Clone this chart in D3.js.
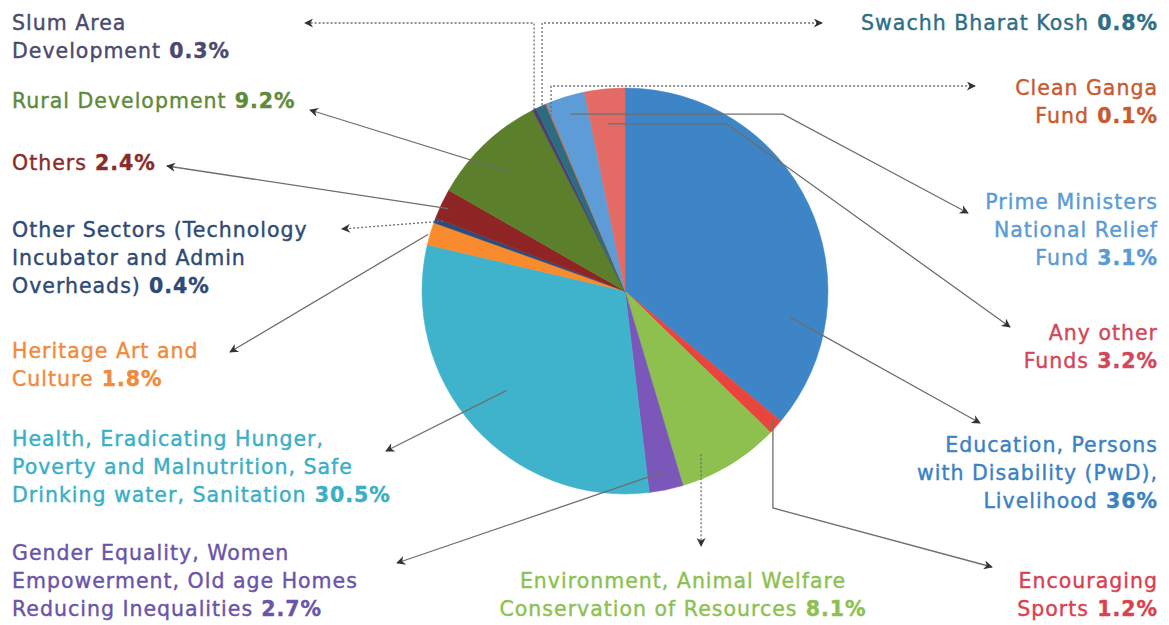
<!DOCTYPE html>
<html>
<head>
<meta charset="utf-8">
<script src="https://cdn.jsdelivr.net/npm/d3@7"></script>
<style>
  body { margin: 0; background: #fff; }
  svg { display: block; }
</style>
</head>
<body>
<div id="chart"></div>
<script>
// DATA
const CATEGORIES = [
    "Education, Persons with Disability (PwD), Livelihood",
    "Encouraging Sports",
    "Environment, Animal Welfare Conservation of Resources",
    "Gender Equality, Women Empowerment, Old age Homes Reducing Inequalities",
    "Health, Eradicating Hunger, Poverty and Malnutrition, Safe Drinking water, Sanitation",
    "Heritage Art and Culture",
    "Other Sectors (Technology Incubator and Admin Overheads)",
    "Others",
    "Rural Development",
    "Slum Area Development",
    "Swachh Bharat Kosh",
    "Clean Ganga Fund",
    "Prime Ministers National Relief Fund",
    "Any other Funds"
];
const SHARES = [36, 1.2, 8.1, 2.7, 30.5, 1.8, 0.4, 2.4, 9.2, 0.3, 0.8, 0.1, 3.1, 3.2];

// label text broken into lines (value gets added to last line)
const LABEL_LINES = [
    ["Education, Persons", "with Disability (PwD),", "Livelihood"],
    ["Encouraging", "Sports"],
    ["Environment, Animal Welfare", "Conservation of Resources"],
    ["Gender Equality, Women", "Empowerment, Old age Homes", "Reducing Inequalities"],
    ["Health, Eradicating Hunger,", "Poverty and Malnutrition, Safe", "Drinking water, Sanitation"],
    ["Heritage Art and", "Culture"],
    ["Other Sectors (Technology", "Incubator and Admin", "Overheads)"],
    ["Others"],
    ["Rural Development"],
    ["Slum Area", "Development"],
    ["Swachh Bharat Kosh"],
    ["Clean Ganga", "Fund"],
    ["Prime Ministers", "National Relief", "Fund"],
    ["Any other", "Funds"]
];

const SLICE_COLORS = ["#3d85c6", "#e8453c", "#8dc04f", "#7a57b8", "#3fb3cb", "#f98b2f",
                      "#2d4c7c", "#8e2424", "#5c7f2b", "#4b3f70", "#2d6b80", "#c9652e",
                      "#5d9cd6", "#e46a66"];
const TEXT_COLORS = ["#3a82c2", "#d9414f", "#8cc152", "#6b54a8", "#3aafc6", "#f08a3c",
                     "#2f4a75", "#8a2b2b", "#5e8a3a", "#4b4a6e", "#2e6f85", "#c85a30",
                     "#5a9bd5", "#d0485a"];

// layout for each label: text anchor point, leader start (angle deg, radius), leader waypoints
const LAYOUT = [
    {x: 1158, y: 452, anchor: "end",    start: [99, 167],  path: [[980, 423]], dash: false},
    {x: 1158, y: 588, anchor: "end",    start: [131, 196], path: [[770, 508], [992, 567]], dash: false, vert: true},
    {x: 683,  y: 588, anchor: "middle", start: [155, 180], path: [[703, 546]], dash: true, vert: true},
    {x: 12,   y: 560, anchor: "start",  start: [168, 185], path: [[397, 563]], dash: false},
    {x: 12,   y: 446, anchor: "start",  start: [230, 155], path: [[386, 451]], dash: false},
    {x: 12,   y: 358, anchor: "start",  start: [286, 205], path: [[230, 352]], dash: false},
    {x: 12,   y: 237, anchor: "start",  start: [291, 195], path: [[342, 229]], dash: true},
    {x: 12,   y: 170, anchor: "start",  start: [295, 195], path: [[167, 166]], dash: false},
    {x: 12,   y: 108, anchor: "start",  start: [316, 165], path: [[310, 110]], dash: false},
    {x: 12,   y: 30,  anchor: "start",  start: [333.4, 203], path: [[null, 23], [305, 23]], dash: true},
    {x: 1158, y: 30,  anchor: "end",    start: [335.5, 200], path: [[null, 23], [822, 23]], dash: true},
    {x: 1158, y: 95,  anchor: "end",    start: [337.1, 190], path: [[null, 86], [975, 86]], dash: true},
    {x: 1158, y: 209, anchor: "end",    start: [342.9, 185], path: [[783, null], [968, 213]], dash: false},
    {x: 1158, y: 340, anchor: "end",    start: [354.2, 168], path: [[727, null], [1010, 327]], dash: false}
];

const FRAME_WIDTH = 1169;
const FRAME_HEIGHT = 625;
const CX = 625, CY = 291, RADIUS = 203;
const LINE_H = 28;

const SVG = d3.select("#chart")
              .append("svg")
                .attr("width", FRAME_WIDTH)
                .attr("height", FRAME_HEIGHT);

// arrow head marker
SVG.append("defs").append("marker")
    .attr("id", "arrow")
    .attr("viewBox", "0 0 10 10")
    .attr("refX", 9)
    .attr("refY", 5)
    .attr("markerWidth", 11)
    .attr("markerHeight", 9)
    .attr("markerUnits", "userSpaceOnUse")
    .attr("orient", "auto")
  .append("path")
    .attr("d", "M0,0 L10,5 L0,10 L3,5 Z")
    .attr("fill", "#333");

const data = CATEGORIES.map((c, i) => ({name: c, value: SHARES[i], idx: i}));

const pie = d3.pie().sort(null).value((d) => d.value);
const arc = d3.arc().innerRadius(0).outerRadius(RADIUS);

const PIE_G = SVG.append("g").attr("transform", "translate(" + CX + "," + CY + ")");

PIE_G.selectAll("path.slice")
    .data(pie(data))
    .enter()
    .append("path")
      .attr("class", "slice")
      .attr("d", arc)
      .attr("fill", (d) => SLICE_COLORS[d.data.idx])
      .attr("stroke", (d) => SLICE_COLORS[d.data.idx])
      .attr("stroke-width", 0.5);

// point on pie for a given angle (deg from top, clockwise) and radius
function piePoint(angleDeg, r) {
    const a = angleDeg * Math.PI / 180;
    return [CX + r * Math.sin(a), CY - r * Math.cos(a)];
}

// leader lines
LAYOUT.forEach((l, i) => {
    const p0 = piePoint(l.start[0], l.start[1]);
    const pts = [p0];
    l.path.forEach((p) => {
        const prev = pts[pts.length - 1];
        pts.push([p[0] === null ? prev[0] : p[0], p[1] === null ? prev[1] : p[1]]);
    });
    if (l.vert) pts[1][0] = p0[0];
    SVG.append("path")
        .attr("d", d3.line()(pts))
        .attr("fill", "none")
        .attr("stroke", "#6e6e6e")
        .attr("stroke-width", 1.3)
        .attr("stroke-dasharray", l.dash ? "2,2" : null)
        .attr("marker-end", "url(#arrow)");
});

// labels
LAYOUT.forEach((l, i) => {
    const t = SVG.append("text")
        .attr("x", l.x)
        .attr("y", l.y)
        .attr("text-anchor", l.anchor)
        .attr("font-family", "'DejaVu Sans', sans-serif")
        .attr("font-size", "20.5px")
        .attr("letter-spacing", "1px")
        .attr("fill", TEXT_COLORS[i])
        .attr("stroke", TEXT_COLORS[i])
        .attr("stroke-width", 0.4);
    const lines = LABEL_LINES[i];
    lines.forEach((line, j) => {
        t.append("tspan")
            .attr("x", l.x)
            .attr("dy", j === 0 ? 0 : LINE_H)
            .text(line);
        if (j === lines.length - 1) {
            t.append("tspan")
                .attr("font-weight", "bold")
                .text(" " + SHARES[i] + "%");
        }
    });
});
</script>
</body>
</html>
